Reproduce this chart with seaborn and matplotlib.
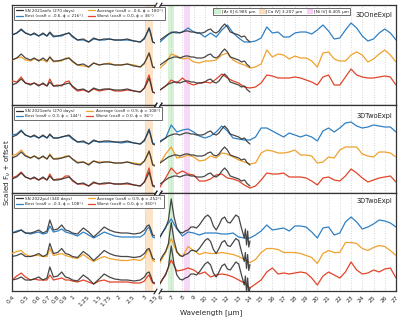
import numpy as np
import matplotlib
matplotlib.use("Agg")
import matplotlib.pyplot as plt
import seaborn as sns
from matplotlib.patches import Patch
from matplotlib.lines import Line2D
from matplotlib.ticker import FixedLocator, FixedFormatter, NullLocator

# ---------------- data ----------------
wl_left = [0.40, 0.43, 0.46, 0.49, 0.53, 0.56, 0.60, 0.64, 0.68, 0.71, 0.75, 0.80, 0.85, 0.90,
           0.95, 1.00, 1.08, 1.18, 1.28, 1.38, 1.50, 1.62, 1.75, 1.90, 2.10, 2.30, 2.55, 2.80,
           2.98, 3.10, 3.20, 3.28, 3.38, 3.50]
wl_obs_right = [6.0, 6.25, 6.5, 6.75, 7.0, 7.25, 7.5, 7.75, 8.0, 8.25, 8.5, 8.75, 9.0, 9.25, 9.5,
                9.75, 10.0, 10.25, 10.5, 10.75, 11.0, 11.25, 11.5, 11.75, 12.0, 12.25, 12.5, 12.75,
                13.0, 13.25, 13.5, 13.6, 13.7, 13.8, 13.9, 14.0]
wl_mod_right = [6.0, 6.5, 7.0, 7.5, 8.0, 8.5, 9.0, 9.5, 10.0, 10.5, 11.0, 11.5, 12.0, 12.5, 13.0,
                13.5, 14.0, 14.5, 15.0, 15.5, 16.0, 16.5, 17.0, 17.5, 18.0, 18.5, 19.0, 19.5, 20.0,
                20.5, 21.0, 21.5, 22.0, 22.5, 23.0, 23.5, 24.0, 24.5, 25.0, 25.5, 26.0, 26.5, 27.0]

# observed spectra (arbitrary scaled flux)
obsA_left = [10, 12, 16, 12, 10, 12, 9, 12, 9, 13, 9, 9, 10, 11, 12, 9, 5, 6, 3, 7, 5, 6, 6, 5, 5, 6,
             4, 3, 7, 12, 17, 11, 3, 2]
obsA_right = [5, 7, 9, 11, 12, 13, 13, 12, 13, 14, 14, 13, 13, 12, 12, 12, 13, 15, 16, 13, 12, 14,
              18, 21, 18, 13, 12, 11, 10, 8, 9, 8, 6, 5, 4, 3]
obsB_left = [10, 11, 13, 10, 10, 11, 13, 10, 12, 23, 13, 14, 18, 13, 12, 10, 9, 15, 11, 6, 11, 16,
             13, 11, 10, 10, 9, 10, 13, 17, 18, 14, 8, 7]
obsB_right = [6, 11, 15, 23, 44, 26, 15, 11, 10, 12, 13, 16, 16, 15, 18, 22, 26, 28, 25, 17, 13, 18,
              24, 26, 21, 20, 24, 28, 26, 15, 5, 14, -2, 12, -4, 2]

# model spectra: panel 1 (3DOneExpl, SN 2021aefx)
blue1_left = [10, 12, 15, 12, 10, 11, 9, 11, 9, 12, 8, 9, 9, 11, 12, 8, 5, 5, 3, 6, 5, 5, 6, 5, 5, 5,
              4, 3, 6, 12, 17, 12, 3, 2]
orange1_left = [10, 12, 13, 10, 9, 11, 10, 10, 8, 13, 8, 9, 9, 12, 12, 8, 5, 4, 3, 7, 5, 6, 7, 5, 5,
                6, 5, 3, 6, 13, 17, 12, 3, 3]
red1_left = [14, 13, 18, 12, 11, 12, 10, 11, 9, 16, 9, 10, 9, 13, 14, 8, 4, 5, 3, 6, 4, 5, 6, 4, 4, 5,
             4, 3, 7, 15, 20, 13, 3, 2]
blue1_right = [3, 8, 13, 12, 13, 17, 13, 12, 8, 12, 8, 15, 20, 12, 7, 3, 3, 4, 7, 18, 12, 13, 8, 8, 12,
               13, 13, 11, 15, 20, 14, 6, 7, 15, 22, 17, 9, 4, 6, 12, 16, 12, 5]
orange1_right = [2, 7, 16, 14, 11, 12, 8, 7, 9, 9, 10, 15, 17, 10, 7, 5, 2, 3, 6, 20, 13, 16, 15, 11,
                 14, 12, 12, 9, 3, 17, 18, 11, 9, 9, 15, 18, 15, 8, 11, 16, 20, 15, 8]
red1_right = [5, 9, 15, 12, 17, 12, 10, 12, 13, 12, 16, 21, 17, 14, 12, 8, 7, 8, 12, 20, 19, 17, 17,
              17, 18, 17, 15, 13, 10, 18, 20, 10, 10, 18, 26, 20, 18, 17, 17, 18, 19, 18, 10]

# panel 2 (3DTwoExpl, SN 2021aefx)
blue2_left = [12, 13, 17, 12, 10, 11, 9, 11, 9, 12, 9, 9, 10, 11, 11, 8, 5, 5, 3, 6, 5, 5, 5, 5, 4, 5,
              4, 3, 6, 13, 18, 12, 4, 3]
orange2_left = [12, 14, 18, 13, 10, 12, 10, 11, 9, 14, 9, 10, 10, 12, 12, 9, 6, 6, 4, 7, 6, 6, 6, 5,
                5, 6, 5, 4, 7, 13, 16, 12, 4, 3]
red2_left = [11, 13, 17, 12, 10, 11, 9, 11, 9, 15, 9, 10, 10, 13, 13, 8, 5, 5, 3, 6, 5, 5, 6, 5, 5, 5,
             4, 3, 7, 15, 21, 13, 4, 3]
blue2_right = [6, 9, 22, 15, 17, 18, 15, 11, 9, 11, 15, 21, 16, 9, 8, 7, 7, 10, 19, 19, 16, 13, 10, 14,
               12, 10, 12, 10, 6, 16, 19, 15, 19, 24, 25, 21, 19, 20, 22, 21, 20, 20, 15]
orange2_right = [5, 14, 21, 10, 11, 13, 11, 7, 8, 12, 10, 15, 14, 11, 8, 6, 4, 5, 15, 18, 17, 15, 15,
                 16, 18, 13, 13, 12, 5, 6, 11, 10, 18, 21, 21, 21, 14, 12, 11, 16, 16, 15, 11]
red2_right = [2, 11, 21, 15, 18, 15, 14, 8, 8, 10, 14, 15, 11, 10, 8, 4, 1, 3, 9, 16, 15, 15, 16, 12,
              12, 12, 11, 8, 4, 11, 12, 9, 8, 13, 20, 16, 11, 7, 9, 11, 12, 13, 7]

# panel 3 (3DTwoExpl, SN 2022pul)
blue3_left = [10, 12, 13, 10, 9, 10, 11, 9, 10, 17, 11, 12, 14, 11, 10, 9, 7, 11, 8, 5, 8, 11, 9, 7, 6,
              6, 6, 6, 9, 14, 16, 11, 6, 5]
orange3_left = [13, 15, 16, 12, 10, 11, 11, 10, 10, 18, 11, 12, 13, 11, 10, 9, 8, 12, 8, 5, 8, 10, 8,
                7, 6, 6, 7, 6, 9, 15, 17, 12, 6, 5]
red3_left = [10, 14, 17, 13, 10, 11, 10, 10, 10, 15, 10, 11, 12, 10, 10, 9, 8, 10, 8, 6, 9, 10, 8, 8,
             8, 8, 7, 7, 9, 13, 15, 11, 7, 6]
blue3_right = [6, 16, 24, 14, 7, 11, 10, 8, 10, 10, 10, 9, 9, 10, 6, 5, 5, 8, 12, 18, 13, 14, 15, 12,
               17, 17, 16, 11, 5, 15, 16, 8, 10, 21, 26, 21, 14, 16, 19, 23, 22, 20, 16]
orange3_right = [4, 14, 28, 14, 10, 20, 16, 12, 14, 13, 13, 14, 13, 12, 10, 7, 4, 7, 14, 18, 18, 17,
                 14, 14, 14, 13, 11, 9, 3, 13, 16, 14, 14, 24, 24, 23, 18, 16, 19, 21, 20, 16, 11]
red3_right = [7, 16, 30, 19, 20, 22, 20, 16, 18, 13, 15, 16, 15, 13, 10, 7, 2, 6, 10, 18, 22, 16, 17,
              16, 17, 18, 17, 12, 5, 14, 18, 15, 12, 18, 28, 20, 16, 17, 20, 18, 21, 22, 12]

panel_models = ["3DOneExpl", "3DTwoExpl", "3DTwoExpl"]
obs_labels = ["SN 2021aefx (270 days)", "SN 2021aefx (270 days)", "SN 2022pul (340 days)"]
best_labels = ["Best (cos\u03b8 = -0.6, \u03d5 = 216\u00b0)", "Best (cos\u03b8 = 0.3, \u03d5 = 144\u00b0)",
               "Best (cos\u03b8 = -0.3, \u03d5 = 108\u00b0)"]
avg_labels = ["Average (cos\u03b8 = -0.6, \u03d5 = 180\u00b0)", "Average (cos\u03b8 = 0.9, \u03d5 = 108\u00b0)",
              "Average (cos\u03b8 = 0.9, \u03d5 = 252\u00b0)"]
worst_labels = ["Worst (cos\u03b8 = 0.0, \u03d5 = 36\u00b0)", "Worst (cos\u03b8 = 0.0, \u03d5 = 36\u00b0)",
                "Worst (cos\u03b8 = 0.0, \u03d5 = 360\u00b0)"]

line_names = ["[Ar II] 6.985 \u03bcm", "[Ca IV] 3.207 \u03bcm", "[Ni IV] 8.405 \u03bcm"]
line_centers = [6.985, 3.207, 8.405]

left_ticks = [0.4, 0.5, 0.6, 0.7, 0.8, 0.9, 1, 1.25, 1.5, 1.75, 2, 2.5, 3, 3.5]
left_ticklabels = ["0.4", "0.5", "0.6", "0.7", "0.8", "0.9", "1", "1.25", "1.5", "1.75", "2", "2.5", "3", "3.5"]
right_ticks = list(range(6, 28))

# ---------------- style ----------------
sns.set_style("white")
plt.rcParams["font.family"] = ["DejaVu Sans"]

C_BLUE, C_ORANGE, C_RED, C_OBS = "#2f80c4", "#f0a22e", "#e2452a", "#333333"
band_cols = {"Ar": "#7fd67f", "Ca": "#f5a64a", "Ni": "#ea7fe6"}
band_half = [0.27, 0.2, 0.3]
band_keys = ["Ar", "Ca", "Ni"]

fig = plt.figure(figsize=(4.0, 3.2), dpi=100)
W, H = 400.0, 320.0
rows_px = [(5, 105), (105, 193), (193, 291)]
offsets = [[50, 25, 0], [42, 21, 0], [47, 23.5, 0]]
ylims = [(-10, 90), (-4, 84), (-1, 97)]
xl0, xl1, xr0, xr1 = 12, 155, 160, 396

models = [
    (blue1_left, orange1_left, red1_left, blue1_right, orange1_right, red1_right),
    (blue2_left, orange2_left, red2_left, blue2_right, orange2_right, red2_right),
    (blue3_left, orange3_left, red3_left, blue3_right, orange3_right, red3_right),
]
obs = [(obsA_left, obsA_right), (obsA_left, obsA_right), (obsB_left, obsB_right)]

for i, (top, bot) in enumerate(rows_px):
    y0 = 1 - bot / H
    h = (bot - top) / H
    axr = fig.add_axes([xr0 / W, y0, (xr1 - xr0) / W, h])
    axl = fig.add_axes([xl0 / W, y0, (xl1 - xl0) / W, h])
    axl.set_zorder(5)
    axr.set_zorder(1)
    axl.patch.set_alpha(0)
    bl, ol, rl, br, orr, rr = models[i]
    ob_l, ob_r = obs[i]
    for off, ml, mr, col in zip(offsets[i], [bl, ol, rl], [br, orr, rr], [C_BLUE, C_ORANGE, C_RED]):
        sns.lineplot(x=wl_left, y=np.array(ml) + off, ax=axl, color=col, lw=0.9,
                     estimator=None, sort=False, legend=False, zorder=3)
        sns.lineplot(x=wl_mod_right, y=np.array(mr) + off, ax=axr, color=col, lw=0.9,
                     estimator=None, sort=False, legend=False, zorder=3)
        sns.lineplot(x=wl_left, y=np.array(ob_l) + off, ax=axl, color=C_OBS, lw=0.9, alpha=0.9,
                     estimator=None, sort=False, legend=False, zorder=4)
        sns.lineplot(x=wl_obs_right, y=np.array(ob_r) + off, ax=axr, color=C_OBS, lw=0.9, alpha=0.9,
                     estimator=None, sort=False, legend=False, zorder=4)

    # emission line bands
    for c, hw, k in zip(line_centers, band_half, band_keys):
        for ax in (axl, axr):
            ax.axvspan(c - hw, c + hw, color=band_cols[k], alpha=0.3, lw=0, zorder=1)

    axl.set_xscale("log")
    axl.set_xlim(0.4, 3.5)
    axr.set_xlim(6, 27)
    for ax in (axl, axr):
        ax.set_ylim(*ylims[i])
        ax.set_yticks([])
        ax.set_xlabel("")
        ax.set_ylabel("")
        ax.grid(axis="x", ls=(0, (1, 2)), color="#c8c8c8", lw=0.6, zorder=0)
        for s in ax.spines.values():
            s.set_color("#333333")
            s.set_linewidth(0.9)
    axl.xaxis.set_major_locator(FixedLocator(left_ticks))
    axl.xaxis.set_major_formatter(FixedFormatter(left_ticklabels))
    axl.xaxis.set_minor_locator(NullLocator())
    axr.xaxis.set_major_locator(FixedLocator(right_ticks))
    axr.xaxis.set_major_formatter(FixedFormatter([str(t) for t in right_ticks]))
    axl.spines["right"].set_visible(False)
    axr.spines["left"].set_visible(False)
    for ax in (axl, axr):
        ax.tick_params(axis="x", length=1.5, width=0.5, pad=1, labelsize=4.3, direction="out")
        if i < 2:
            ax.tick_params(axis="x", labelbottom=False, length=0)
        else:
            for lab in ax.get_xticklabels():
                lab.set_rotation(45)
                lab.set_ha("right")
                lab.set_rotation_mode("anchor")

    # break marks
    kw = dict(marker=[(-1, -1.6), (1, 1.6)], markersize=4, linestyle="none", color="#222222",
              mec="#222222", mew=0.8, clip_on=False, zorder=10)
    axl.plot([1, 1], [0, 1], transform=axl.transAxes, **kw)
    axr.plot([0, 0], [0, 1], transform=axr.transAxes, **kw)

    # legend of spectra
    handles = [Line2D([], [], color=C_OBS, lw=0.9), Line2D([], [], color=C_BLUE, lw=0.9),
               Line2D([], [], color=C_ORANGE, lw=0.9), Line2D([], [], color=C_RED, lw=0.9)]
    labels = [obs_labels[i], best_labels[i], avg_labels[i], worst_labels[i]]
    leg = axl.legend(handles, labels, ncol=2, loc="upper left", bbox_to_anchor=(0.0, 1.0),
                     fontsize=3.0, handlelength=1.7, handletextpad=0.5, columnspacing=1.2,
                     borderpad=0.45, labelspacing=0.25, frameon=True, fancybox=False,
                     edgecolor="#555555", framealpha=1)
    leg.get_frame().set_linewidth(0.6)
    leg.set_zorder(20)

    axr.text(0.985, [0.9, 0.88, 0.92][i], panel_models[i], transform=axr.transAxes,
             ha="right", va="center", fontsize=4.8, color="#222222")

    if i == 0:
        bh = [Patch(facecolor=band_cols[k], alpha=0.35, edgecolor=band_cols[k], lw=0.6) for k in band_keys]
        bleg = axr.legend(bh, line_names, ncol=3, loc="upper right", bbox_to_anchor=(0.815, 0.99),
                          fontsize=3.1, handlelength=1.3, handleheight=0.8, handletextpad=0.4,
                          columnspacing=0.9, borderpad=0.3, frameon=True, fancybox=False,
                          edgecolor="#555555", framealpha=1)
        bleg.get_frame().set_linewidth(0.6)

fig.text(0.528, 0.012, "Wavelength [\u03bcm]", ha="center", va="bottom", fontsize=5.2)
fig.text(0.006, 0.46, "Scaled F$_\\nu$ + offset", rotation=90, ha="left", va="center", fontsize=5.2)

fig.savefig("out.png", dpi=100)
